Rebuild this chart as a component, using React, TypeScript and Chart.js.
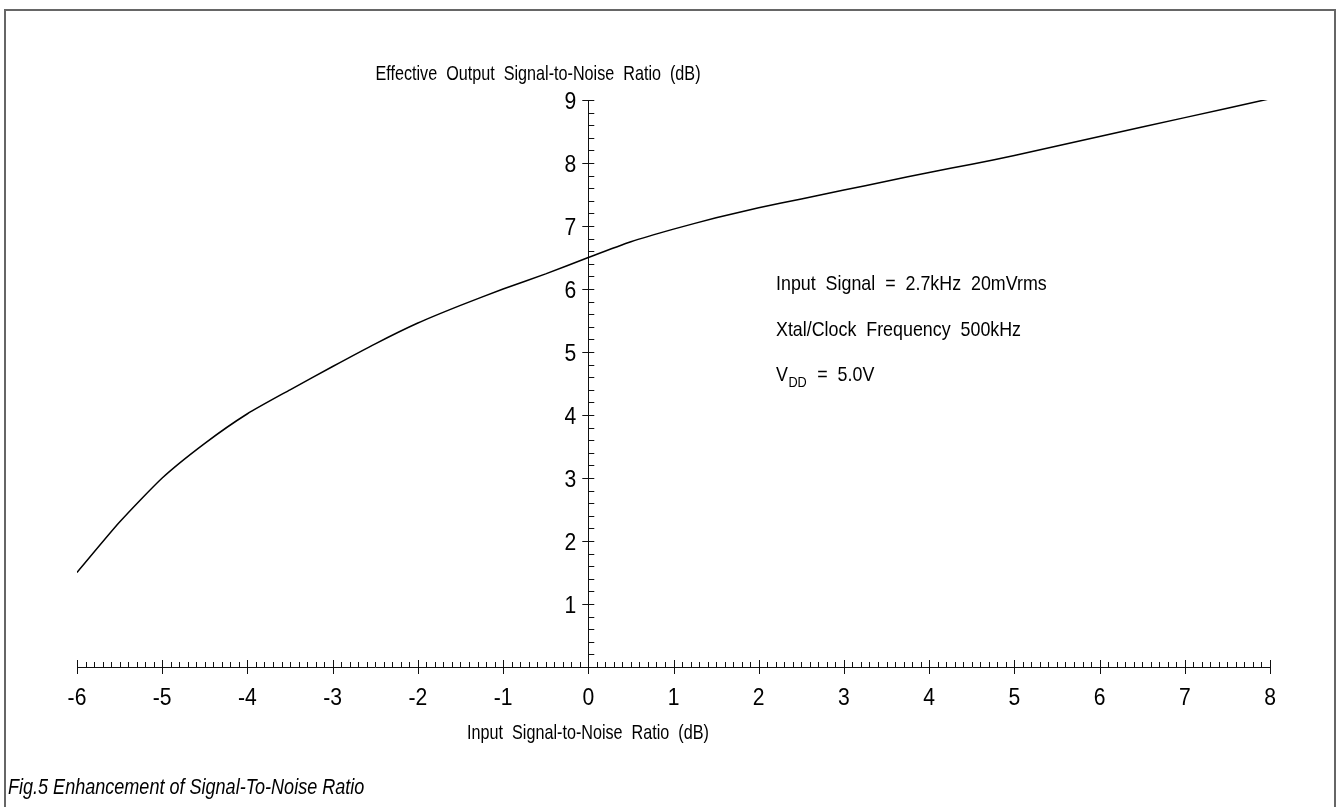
import { useEffect, useRef } from "react";
import { Chart, registerables } from "chart.js";

Chart.register(...registerables);

// ---- data ----
const inputSNR = [-6, -5.5, -5, -4.5, -4, -3.5, -3, -2.5, -2, -1.5, -1, -0.5, 0, 0.5, 1, 1.5, 2, 2.5, 3, 3.5, 4, 4.5, 5, 6, 7, 8];
const outputSNR = [1.5, 2.3, 3.0, 3.55, 4.02, 4.4, 4.77, 5.13, 5.46, 5.74, 6.0, 6.24, 6.5, 6.75, 6.95, 7.13, 7.29, 7.43, 7.57, 7.71, 7.85, 7.98, 8.12, 8.42, 8.72, 9.02];

const xTickValues = [-6, -5, -4, -3, -2, -1, 0, 1, 2, 3, 4, 5, 6, 7, 8];
const yTickValues = [0, 1, 2, 3, 4, 5, 6, 7, 8, 9];
const xMinorDivisions = 10;
const yMinorDivisions = 5;

const xAxisTitle = "Input  Signal-to-Noise  Ratio  (dB)";
const yAxisTitle = "Effective  Output  Signal-to-Noise  Ratio  (dB)";
const noteLines = ["Input  Signal  =  2.7kHz  20mVrms", "Xtal/Clock  Frequency  500kHz"];
const vddMain = "V";
const vddSub = "DD";
const vddRest = "  =  5.0V";
const caption = "Fig.5 Enhancement of Signal-To-Noise Ratio";

const FONT = '"Liberation Sans", Arial, Helvetica, sans-serif';

function drawText(
  ctx: CanvasRenderingContext2D,
  text: string,
  x: number,
  y: number,
  size: number,
  align: "left" | "center" | "right" = "left",
  sx = 0.82,
  italic = false
) {
  ctx.save();
  ctx.font = `${italic ? "italic " : ""}${size}px ${FONT}`;
  ctx.textAlign = "left";
  ctx.textBaseline = "alphabetic";
  ctx.fillStyle = "#000";
  const w = ctx.measureText(text).width * sx;
  let x0 = x;
  if (align === "center") x0 = x - w / 2;
  if (align === "right") x0 = x - w;
  ctx.translate(x0, y);
  ctx.scale(sx, 1);
  ctx.fillText(text, 0, 0);
  ctx.restore();
  return w;
}

const decorPlugin = {
  id: "decor",
  afterDraw(chart: any) {
    const ctx: CanvasRenderingContext2D = chart.ctx;
    const xs = chart.scales.x;
    const ys = chart.scales.y;
    const axisY = ys.getPixelForValue(0);
    const axisX = xs.getPixelForValue(0);

    ctx.save();
    ctx.strokeStyle = "#111";
    ctx.lineWidth = 1;
    ctx.beginPath();
    // x-axis ticks
    for (let i = 0; i < xTickValues.length; i++) {
      const v = xTickValues[i];
      const px = Math.round(xs.getPixelForValue(v)) + 0.5;
      ctx.moveTo(px, axisY - 7);
      ctx.lineTo(px, axisY + 7);
      if (i < xTickValues.length - 1) {
        const step = xTickValues[i + 1] - v;
        for (let k = 1; k < xMinorDivisions; k++) {
          const mx = Math.round(xs.getPixelForValue(v + (k * step) / xMinorDivisions)) + 0.5;
          ctx.moveTo(mx, axisY - 5);
          ctx.lineTo(mx, axisY);
        }
      }
    }
    // y-axis ticks
    for (let i = 0; i < yTickValues.length; i++) {
      const v = yTickValues[i];
      const py = Math.round(ys.getPixelForValue(v)) + 0.5;
      if (v !== 0) {
        ctx.moveTo(axisX - 6, py);
        ctx.lineTo(axisX + 6, py);
      }
      if (i < yTickValues.length - 1) {
        const step = yTickValues[i + 1] - v;
        for (let k = 1; k < yMinorDivisions; k++) {
          const my = Math.round(ys.getPixelForValue(v + (k * step) / yMinorDivisions)) + 0.5;
          ctx.moveTo(axisX, my);
          ctx.lineTo(axisX + 6, my);
        }
      }
    }
    ctx.stroke();
    ctx.restore();

    // tick labels
    for (const v of xTickValues) {
      drawText(ctx, String(v), xs.getPixelForValue(v), axisY + 38, 24, "center", 0.88);
    }
    for (const v of yTickValues) {
      if (v === 0) continue;
      drawText(ctx, String(v), axisX - 12, ys.getPixelForValue(v) + 8.5, 24, "right", 0.88);
    }

    // axis titles
    drawText(ctx, yAxisTitle, 538, 80, 21, "center", 0.77);
    drawText(ctx, xAxisTitle, 588, 739, 21, "center", 0.77);

    // notes
    drawText(ctx, noteLines[0], 776, 290, 21, "left", 0.85);
    drawText(ctx, noteLines[1], 776, 336, 21, "left", 0.85);
    const w1 = drawText(ctx, vddMain, 776, 381, 21, "left", 0.85);
    const w2 = drawText(ctx, vddSub, 776 + w1 + 0.5, 387, 15, "left", 0.85);
    drawText(ctx, vddRest, 776 + w1 + w2 + 1, 381, 21, "left", 0.85);

    // caption
    drawText(ctx, caption, 8, 794, 22, "left", 0.82, true);

    // frame
    ctx.save();
    ctx.strokeStyle = "#666";
    ctx.lineWidth = 2;
    ctx.strokeRect(5, 10, 1330, 830);
    ctx.restore();
  },
};

export default function App() {
  const canvasRef = useRef<HTMLCanvasElement | null>(null);

  useEffect(() => {
    document.body.style.margin = "0";
    document.body.style.overflow = "hidden";
    const canvas = canvasRef.current;
    if (!canvas) return;
    const points = inputSNR.map((x, i) => ({ x, y: outputSNR[i] }));
    const chart = new Chart(canvas, {
      type: "line",
      data: {
        datasets: [
          {
            data: points,
            borderColor: "#000",
            borderWidth: 1.5,
            pointRadius: 0,
            tension: 0.2,
            fill: false,
          },
        ],
      },
      options: {
        responsive: false,
        animation: false,
        devicePixelRatio: 1,
        layout: { padding: { left: 77, right: 68, top: 100, bottom: 140 } },
        plugins: { legend: { display: false }, tooltip: { enabled: false } },
        scales: {
          x: {
            type: "linear",
            min: -6,
            max: 8,
            position: { y: 0 } as any,
            ticks: { display: false, stepSize: 1 },
            grid: { display: true, drawOnChartArea: false, drawTicks: false },
            border: { display: true, color: "#111", width: 1 },
          },
          y: {
            type: "linear",
            min: 0,
            max: 9,
            position: { x: 0 } as any,
            ticks: { display: false, stepSize: 1 },
            grid: { display: true, drawOnChartArea: false, drawTicks: false },
            border: { display: true, color: "#111", width: 1 },
          },
        },
      },
      plugins: [decorPlugin],
    });
    return () => chart.destroy();
  }, []);

  return (
    <div style={{ width: 1338, height: 807, background: "#fff" }}>
      <canvas ref={canvasRef} width={1338} height={807} style={{ display: "block" }} />
    </div>
  );
}
